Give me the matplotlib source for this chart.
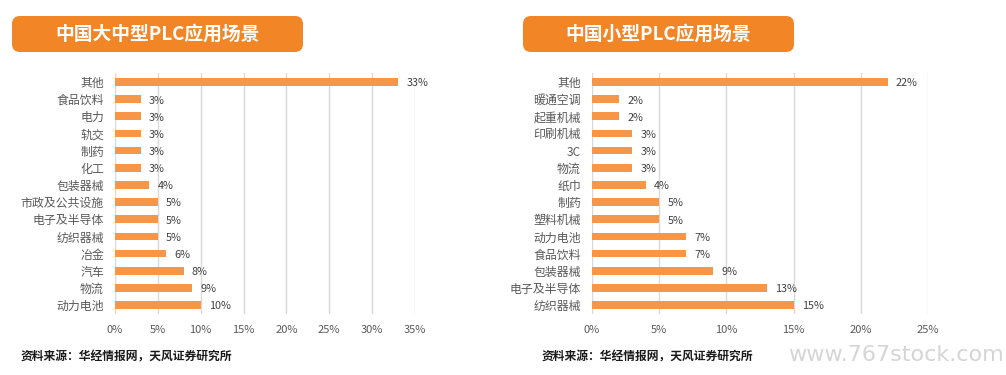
import matplotlib
matplotlib.use("Agg")
import matplotlib.pyplot as plt
from matplotlib.patches import FancyBboxPatch

plt.rcParams['font.family'] = ['Noto Sans CJK SC', 'DejaVu Sans']

left_title = "中国大中型PLC应用场景"
left_cats = ["其他", "食品饮料", "电力", "轨交", "制药", "化工", "包装器械", "市政及公共设施",
             "电子及半导体", "纺织器械", "冶金", "汽车", "物流", "动力电池"]
left_vals = [33, 3, 3, 3, 3, 3, 4, 5, 5, 5, 6, 8, 9, 10]
left_ticks = [0, 5, 10, 15, 20, 25, 30, 35]

right_title = "中国小型PLC应用场景"
right_cats = ["其他", "暖通空调", "起重机械", "印刷机械", "3C", "物流", "纸巾", "制药",
              "塑料机械", "动力电池", "食品饮料", "包装器械", "电子及半导体", "纺织器械"]
right_vals = [22, 2, 2, 3, 3, 3, 4, 5, 5, 7, 7, 9, 13, 15]
right_ticks = [0, 5, 10, 15, 20, 25]

source = "资料来源：华经情报网，天风证券研究所"
watermark = "www.767stock.com"

W, H = 1006, 375
fig = plt.figure(figsize=(W / 100, H / 100), dpi=100)

bar_color = "#F79646"
banner_color = "#F28627"
grid_color = "#D9D9D9"


def px_rect(x0, y0, x1, y1):
    return [x0 / W, 1 - y1 / H, (x1 - x0) / W, (y1 - y0) / H]


def draw_panel(rect, cats, vals, ticks):
    ax = fig.add_axes(rect)
    ys = list(range(len(cats)))
    ax.barh(ys, vals, height=0.45, color=bar_color, zorder=3)
    ax.set_ylim(len(cats) - 0.5, -0.5)
    ax.set_xlim(ticks[0], ticks[-1])
    ax.set_xticks(ticks)
    ax.set_xticklabels([f"{t}%" for t in ticks], fontsize=8, color="#595959")
    ax.set_yticks(ys)
    ax.set_yticklabels(cats, fontsize=8.6, color="#595959")
    ax.tick_params(axis='both', length=0)
    ax.tick_params(axis='x', pad=8)
    ax.tick_params(axis='y', pad=8)
    ax.grid(axis='x', color=grid_color, linewidth=1, zorder=0)
    for s in ax.spines.values():
        s.set_visible(False)
    for y, v in zip(ys, vals):
        ax.annotate(f"{v}%", (v, y), xytext=(6, -1), textcoords="offset points",
                    va="center", ha="left", fontsize=7.8, color="#404040")
    return ax


draw_panel(px_rect(115, 73.4, 415, 313.6), left_cats, left_vals, left_ticks)
draw_panel(px_rect(592, 73.4, 928, 313.6), right_cats, right_vals, right_ticks)


def banner(x0, y0, x1, y1, text):
    r = px_rect(x0, y0, x1, y1)
    p = FancyBboxPatch((r[0], r[1]), r[2], r[3],
                       boxstyle="round,pad=0,rounding_size=0.008",
                       transform=fig.transFigure, facecolor=banner_color,
                       edgecolor="none", mutation_aspect=W / H)
    fig.patches.append(p)
    fig.text(r[0] + r[2] / 2, r[1] + r[3] / 2, text, ha="center", va="center",
             fontsize=13.5, fontweight="bold", color="white")


banner(12, 16, 303, 52, left_title)
banner(523, 16, 794, 52, right_title)

fig.text(21 / W, 1 - 357 / H, source, fontsize=8.5, fontweight="bold",
         color="#1a1a1a", va="center", ha="left")
fig.text(542 / W, 1 - 357 / H, source, fontsize=8.5, fontweight="bold",
         color="#1a1a1a", va="center", ha="left")
fig.text(1004 / W, 1 - 355 / H, watermark, fontsize=16, color="#D5D5D5",
         va="center", ha="right", family="DejaVu Sans")

fig.savefig("out.png", dpi=100)
